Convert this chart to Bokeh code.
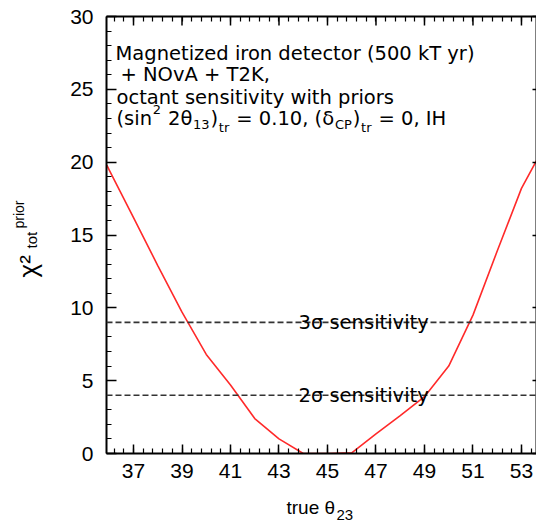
import numpy as np
from bokeh.plotting import figure
from bokeh.models import Range1d, LinearAxis, FixedTicker, SingleIntervalTicker, Label, Span
from bokeh.embed import file_html
from bokeh.resources import INLINE

# ---- data ----
theta23 = [35.9, 36, 37, 38, 39, 40, 41, 42, 43, 44, 45, 46, 47, 48, 49, 50, 51, 52, 53, 53.62]
chi2_prior = [19.8, 19.45, 16.2, 12.9, 9.7, 6.8, 4.7, 2.4, 1.0, 0.0, 0.0, 0.05, 1.35, 2.6, 3.9, 6.0, 9.5, 13.9, 18.2, 20.1]
x_ticks = [37, 39, 41, 43, 45, 47, 49, 51, 53]
y_ticks = [0, 5, 10, 15, 20, 25, 30]
sigma_levels = [9, 4]
sigma_labels = ["3σ sensitivity", "2σ sensitivity"]
info_lines = ["Magnetized iron detector (500 kT yr)", "+ NOvA + T2K,", "octant sensitivity with priors"]

# ---- layout ----
W, H = 536, 524
FL, FR, FT, FB = 106, 536, 16, 453
X0, X1 = 35.886, 53.62
Y0, Y1 = 0, 30

def dx(px):
    return X0 + (px - FL) * (X1 - X0) / (FR - FL)

def dy(py):
    return Y0 + (FB - py) * (Y1 - Y0) / (FB - FT)

p = figure(width=W, height=H, x_range=Range1d(X0, X1), y_range=Range1d(Y0, Y1),
           output_backend="svg", toolbar_location=None,
           x_axis_type=None, y_axis_type=None,
           min_border_left=FL, min_border_right=W - FR, min_border_top=FT, min_border_bottom=H - FB)
p.outline_line_color = None
p.background_fill_color = "white"
p.border_fill_color = "white"

minor_x = [round(v, 2) for v in np.arange(35.8, 53.7, 0.4)]

def style_axis(ax, maj_in, min_in):
    ax.axis_line_width = 2
    ax.axis_line_color = "black"
    ax.major_tick_in = maj_in
    ax.major_tick_out = 0
    ax.minor_tick_in = min_in
    ax.minor_tick_out = 0
    ax.major_tick_line_width = 1.5
    ax.minor_tick_line_width = 1.2
    ax.major_tick_line_color = "black"
    ax.minor_tick_line_color = "black"
    ax.major_label_text_font = "Liberation Sans"
    ax.major_label_text_font_size = "21px"
    ax.major_label_text_color = "black"

xb = LinearAxis(ticker=FixedTicker(ticks=x_ticks, minor_ticks=minor_x))
style_axis(xb, 9, 5)
xb.major_label_standoff = 10
p.add_layout(xb, "below")

xt = LinearAxis(ticker=FixedTicker(ticks=[], minor_ticks=minor_x))
style_axis(xt, 9, 5)
xt.major_label_standoff = 0
p.add_layout(xt, "above")
# longer major ticks of the top axis
p.ray(x=x_ticks, y=[Y1] * len(x_ticks), length=9, length_units="screen",
      angle=-np.pi / 2, line_color="black", line_width=1.5)

yl = LinearAxis(ticker=SingleIntervalTicker(interval=5, num_minor_ticks=5))
style_axis(yl, 10, 5)
yl.major_label_standoff = 13
p.add_layout(yl, "left")

yr = LinearAxis(ticker=FixedTicker(ticks=[], minor_ticks=y_ticks))
style_axis(yr, 4, 4)
yr.minor_tick_line_width = 1.5
yr.major_label_standoff = 0
p.add_layout(yr, "right")

# sensitivity lines
for lvl, txt in zip(sigma_levels, sigma_labels):
    p.add_layout(Span(location=lvl, dimension="width", line_color="#333333",
                      line_width=1.6, line_dash="6 3"))
    p.add_layout(Label(x=dx(298), y=lvl, text=txt, text_font="DejaVu Sans",
                       text_font_size="19.5px", text_color="black",
                       text_baseline="alphabetic", text_align="left"))

# curve
p.line(theta23, chi2_prior, line_color="#ff2a2a", line_width=1.6)

# ---- text helpers ----
AF = "DejaVu Sans"
DJ = {'(': .390, ')': .390, 's': .521, 'i': .278, 'n': .634, '2': .636, ' ': .318, 'θ': .602,
      '1': .636, '3': .636, 't': .392, 'r': .411, '=': .838, '0': .636, '.': .318, ',': .318,
      'δ': .612, 'C': .698, 'P': .603, 'I': .295, 'H': .752}

def tw(s, size):
    return sum(DJ.get(c, 0.6) for c in s) * size

def lab(px, py, txt, size=19.5, angle=0.0, font=AF, place="center"):
    L = Label(x=dx(px), y=dy(py), text=txt, text_font=font, text_font_size=f"{size}px",
              text_color="black", text_baseline="alphabetic", text_align="left", angle=angle)
    p.add_layout(L, place)

lab(115, 53, info_lines[0])
lab(120, 74, info_lines[1])
lab(116, 97, info_lines[2])

# line 4: (sin^2 2θ_13)_tr = 0.10, (δ_CP)_tr = 0, IH
segments = [("(sin", 19.5, 0), ("2", 13, -9), (" 2θ", 19.5, 0), ("13", 13, 6), (")", 19.5, 0),
            ("tr", 13, 9), (" = 0.10, (δ", 19.5, 0), ("CP", 13, 6), (")", 19.5, 0),
            ("tr", 13, 9), (" = 0, IH", 19.5, 0)]
cx = 116
for txt, size, off in segments:
    body = txt.lstrip(" ")
    cx += tw(txt[:len(txt) - len(body)], size)
    lab(cx, 118 + off, body, size)
    cx += tw(body, size) + 0.8

# y axis label (rotated, reads upward): χ² with subscript "tot" and superscript "prior"
R = np.pi / 2
lab(27, 277, "χ²", 26, R, "Liberation Sans", "left")
lab(31, 248, "tot", 15, R, "Liberation Sans", "left")
lab(18, 228, "prior", 14, R, "Liberation Sans", "left")

# x axis label
lab(286, 507, "true θ", 19, 0.0, "Liberation Sans", "below")
lab(336, 514, "23", 15, 0.0, "Liberation Sans", "below")

open("out.html", "w").write(file_html(p, INLINE))
